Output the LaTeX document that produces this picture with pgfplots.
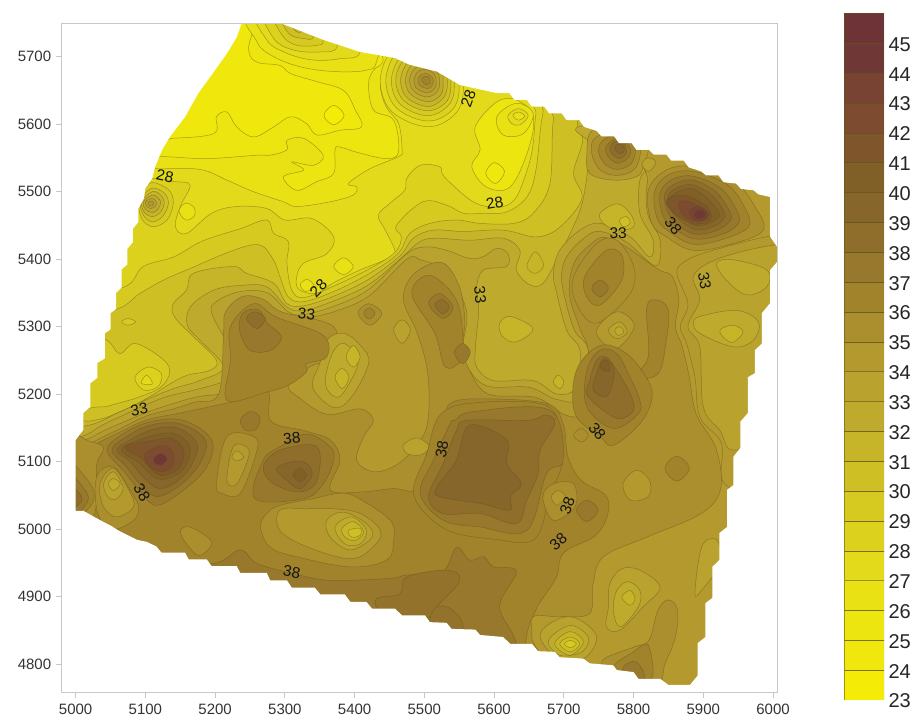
\documentclass[border=0pt]{standalone}
\usepackage{fontspec}
\setmainfont{Liberation Sans}
\usepackage{pgfplots}
\pgfplotsset{compat=1.18}
\definecolor{c23}{HTML}{F4EB06}\definecolor{c24}{HTML}{F0E80C}\definecolor{c25}{HTML}{EDE50F}
\definecolor{c26}{HTML}{E9E113}\definecolor{c27}{HTML}{E2DA1A}\definecolor{c28}{HTML}{DCD21E}
\definecolor{c29}{HTML}{D6CA21}\definecolor{c30}{HTML}{CEBF25}\definecolor{c31}{HTML}{C6B528}
\definecolor{c32}{HTML}{BEAA2C}\definecolor{c33}{HTML}{B9A22E}\definecolor{c34}{HTML}{B3992E}
\definecolor{c35}{HTML}{AB8F2F}\definecolor{c36}{HTML}{A1832C}\definecolor{c37}{HTML}{98782C}
\definecolor{c375}{HTML}{93732B}
\definecolor{c38}{HTML}{8E6E2A}\definecolor{c39}{HTML}{86662A}\definecolor{c40}{HTML}{806026}
\definecolor{c41}{HTML}{7F552C}\definecolor{c42}{HTML}{7C4B30}\definecolor{c43}{HTML}{784333}
\definecolor{c44}{HTML}{6F3836}\definecolor{c45}{HTML}{6E3336}
\definecolor{ln}{HTML}{5E5418}
\newcommand\Z[2]{\addplot[fill=c#1,draw=ln,draw opacity=.5,line width=.5pt,smooth cycle,tension=.6,forget plot] coordinates {#2};}
\newcommand\B[2]{\addplot[fill=c#1,draw=ln,draw opacity=.55,line width=.5pt,forget plot] coordinates {(0,#1)(1,#1)(1,#2)(0,#2)} -- cycle;}
\newcommand\T[4]{\node[text=black!92,rotate=#4,inner sep=0pt,font=\fontsize{15.5}{15.5}\selectfont] at (axis cs:#1,#2) {#3};}
\begin{document}
\begin{tikzpicture}
\path[use as bounding box] (0,0) rectangle (917pt,719pt);
\begin{axis}[at={(61.7pt,27pt)},anchor=south west,scale only axis,width=715.3pt,height=668.7pt,
 xmin=4980,xmax=6005.7,ymin=4758.5,ymax=5749.5,axis on top,
 xtick={5000,5100,5200,5300,5400,5500,5600,5700,5800,5900,6000},
 ytick={4800,4900,5000,5100,5200,5300,5400,5500,5600,5700},
 xtick pos=bottom,ytick pos=left,tick align=outside,major tick length=6pt,
 axis line style={draw=black!22,line width=.8pt},tick style={draw=black!22,line width=.8pt},
 /pgf/number format/1000 sep={},/pgf/number format/assume math mode=true,
 tick label style={text=black!80,font=\fontsize{15}{15}\selectfont},
 xticklabel style={yshift=-2pt},yticklabel style={xshift=-1pt}]
\addplot[fill=c27,draw=none,forget plot] coordinates {(4900,4700)(6100,4700)(6100,5800)(4900,5800)} -- cycle;
% north bright bands
\Z{26}{(5050,5537)(5114,5534)(5178,5533)(5217,5517)(5255,5500)(5298,5485)(5317,5478)(5365,5485)(5398,5495)(5403,5507)(5391,5512)(5422,5534)(5463,5552)(5468,5562)(5463,5601)(5445,5626)(5437,5660)(5450,5690)(5460,5710)(5400,5770)(5050,5770)}
\Z{25}{(5050,5552)(5123,5552)(5188,5549)(5260,5554)(5279,5554)(5303,5562)(5303,5576)(5327,5579)(5355,5554)(5341,5539)(5310,5544)(5327,5532)(5298,5522)(5317,5502)(5346,5515)(5370,5527)(5372,5562)(5379,5566)(5408,5557)(5446,5549)(5463,5559)(5456,5606)(5427,5621)(5420,5660)(5427,5680)(5440,5700)(5400,5770)(5050,5770)}
\Z{24}{(5100,5579)(5138,5579)(5198,5586)(5202,5611)(5217,5618)(5231,5596)(5255,5581)(5284,5596)(5308,5611)(5331,5601)(5346,5584)(5379,5591)(5410,5596)(5401,5621)(5384,5650)(5346,5663)(5308,5675)(5293,5687)(5260,5692)(5248,5710)(5245,5770)(5100,5770)}
\Z{23}{(5356,5613)(5370,5628)(5385,5613)(5370,5599)}
% NW peak
\Z{26}{(5255,5770)(5260,5722)(5284,5700)(5322,5685)(5370,5678)(5417,5680)(5432,5695)(5440,5770)}
\Z{27}{(5265,5770)(5274,5725)(5303,5705)(5341,5695)(5379,5697)(5408,5707)(5400,5770)}
\Z{28}{(5274,5770)(5284,5727)(5312,5710)(5350,5707)(5375,5715)(5370,5770)}
\Z{29}{(5284,5770)(5296,5732)(5317,5717)(5346,5717)(5355,5725)(5345,5770)}
\Z{30}{(5293,5770)(5305,5735)(5327,5727)(5341,5730)(5335,5770)}
\Z{31}{(5303,5770)(5312,5742)(5325,5738)(5330,5770)}
% peak at 5500,5665
\Z{27}{(5437,5670)(5448,5625)(5483,5601)(5518,5598)(5548,5620)(5556,5655)(5548,5695)(5503,5725)(5458,5715)}
\Z{28}{(5445,5669)(5455,5630)(5485,5609)(5516,5606)(5543,5625)(5550,5656)(5543,5691)(5503,5718)(5463,5709)}
\Z{29}{(5453,5669)(5461,5635)(5488,5616)(5514,5614)(5537,5631)(5543,5657)(5537,5688)(5503,5711)(5469,5703)}
\Z{30}{(5459,5668)(5467,5639)(5490,5623)(5513,5621)(5533,5635)(5538,5658)(5533,5685)(5503,5705)(5473,5698)}
\Z{31}{(5466,5668)(5472,5643)(5492,5629)(5511,5627)(5528,5640)(5533,5659)(5528,5682)(5503,5699)(5478,5693)}
\Z{32}{(5473,5667)(5478,5647)(5494,5636)(5510,5634)(5524,5644)(5527,5660)(5524,5679)(5503,5693)(5482,5688)}
\Z{33}{(5479,5667)(5483,5651)(5496,5642)(5508,5641)(5519,5649)(5522,5661)(5519,5676)(5503,5687)(5487,5683)}
\Z{34}{(5485,5666)(5488,5654)(5498,5648)(5507,5647)(5515,5653)(5517,5662)(5515,5673)(5503,5681)(5491,5678)}
\Z{35}{(5491,5666)(5493,5658)(5500,5654)(5506,5653)(5511,5657)(5513,5663)(5511,5670)(5503,5675)(5495,5673)}
\Z{36}{(5496,5665)(5501,5659)(5505,5658)(5508,5661)(5508,5668)(5503,5671)(5498,5670)}
% bright patch north of the 28 label
\Z{25}{(5573,5596)(5580,5562)(5568,5537)(5589,5507)(5623,5507)(5649,5562)(5656,5611)(5632,5636)(5604,5633)}
\Z{24}{(5588,5527)(5600,5543)(5615,5530)(5602,5512)}
\Z{26}{(5604,5611)(5632,5631)(5656,5616)(5642,5586)(5613,5584)}
\Z{27}{(5620,5613)(5635,5623)(5649,5613)(5637,5599)(5625,5601)}
\Z{26}{(5627,5613)(5635,5618)(5644,5612)(5635,5606)}
\Z{26}{(5148,5472)(5158,5483)(5170,5476)(5170,5464)(5158,5458)}
% rising bands
\Z{28}{(4950,5520)(5104,5520)(5140,5515)(5164,5510)(5150,5478)(5143,5448)(5159,5438)(5195,5468)(5231,5478)(5274,5475)(5300,5458)(5339,5460)(5370,5433)(5360,5408)(5327,5394)(5317,5374)(5320,5355)(5345,5349)(5370,5365)(5408,5384)(5446,5400)(5458,5411)(5444,5443)(5434,5465)(5451,5483)(5472,5502)(5475,5520)(5494,5539)(5522,5537)(5527,5524)(5551,5500)(5570,5485)(5589,5478)(5613,5478)(5632,5492)(5649,5537)(5656,5571)(5660,5616)(5670,5680)(6100,5700)(6100,4700)(4900,4700)(4900,5520)}
\Z{26}{(5370,5389)(5384,5402)(5398,5389)(5384,5377)}
\Z{26}{(5322,5362)(5332,5370)(5342,5360)(5330,5352)}
\Z{29}{(5090,5490)(5107,5513)(5133,5503)(5140,5483)(5131,5458)(5111,5448)(5095,5460)}
\Z{30}{(5093,5487)(5109,5505)(5127,5498)(5133,5483)(5126,5465)(5111,5455)(5097,5465)}
\Z{31}{(5095,5486)(5110,5500)(5122,5495)(5127,5484)(5122,5470)(5110,5463)(5098,5470)}
\Z{32}{(5097,5485)(5110,5495)(5118,5491)(5122,5484)(5118,5474)(5110,5469)(5100,5474)}
\Z{33}{(5100,5485)(5110,5490)(5115,5486)(5116,5482)(5113,5477)(5108,5475)(5102,5478)}
\Z{34}{(5104,5484)(5110,5486)(5112,5483)(5110,5479)(5106,5479)}
\Z{29}{(4950,5355)(5064,5357)(5097,5389)(5140,5403)(5174,5423)(5198,5433)(5236,5445)(5274,5458)(5284,5438)(5305,5426)(5303,5394)(5310,5354)(5327,5343)(5370,5360)(5420,5385)(5458,5410)(5467,5433)(5460,5450)(5498,5485)(5532,5480)(5556,5468)(5585,5468)(5618,5470)(5647,5492)(5660,5532)(5670,5616)(5690,5680)(6100,5700)(6100,4700)(4900,4700)(4900,5355)}
\Z{30}{(4950,5320)(5052,5324)(5092,5349)(5126,5369)(5164,5386)(5226,5413)(5264,5421)(5284,5398)(5293,5374)(5305,5344)(5327,5337)(5370,5352)(5420,5378)(5462,5408)(5479,5438)(5508,5453)(5546,5458)(5580,5453)(5628,5453)(5656,5468)(5680,5512)(5685,5606)(5700,5660)(6100,5700)(6100,4700)(4900,4700)(4900,5320)}
% west lobe
\Z{29}{(5000,5290)(5044,5280)(5063,5260)(5085,5275)(5121,5255)(5135,5235)(5123,5211)(5092,5196)(5059,5186)(5035,5181)(5000,5190)}
\Z{28}{(5085,5225)(5104,5240)(5123,5230)(5118,5211)(5097,5206)}
\Z{27}{(5094,5216)(5102,5228)(5110,5215)}
\Z{29}{(5066,5307)(5075,5312)(5086,5307)(5075,5302)}
\Z{31}{(4900,5150)(5020,5160)(5068,5176)(5106,5196)(5135,5215)(5160,5228)(5192,5235)(5202,5250)(5169,5285)(5142,5314)(5140,5334)(5159,5354)(5169,5379)(5226,5389)(5245,5379)(5284,5364)(5303,5334)(5327,5331)(5370,5345)(5420,5370)(5465,5405)(5484,5431)(5513,5443)(5556,5441)(5613,5443)(5661,5433)(5695,5448)(5726,5490)(5714,5527)(5727,5575)(5722,5610)(5780,5700)(6100,5700)(6100,4700)(4900,4700)}
\Z{32}{(4900,5145)(5010,5152)(5060,5172)(5102,5192)(5140,5208)(5178,5220)(5212,5240)(5178,5280)(5160,5302)(5165,5330)(5198,5354)(5236,5361)(5274,5359)(5303,5329)(5327,5324)(5370,5338)(5420,5362)(5465,5400)(5494,5426)(5518,5431)(5565,5428)(5613,5431)(5637,5413)(5632,5384)(5651,5362)(5670,5364)(5690,5399)(5710,5440)(5725,5478)(5733,5522)(5737,5570)(5745,5600)(6100,5600)(6100,4700)(4900,4700)}
\Z{31}{(5647,5389)(5659,5411)(5671,5391)(5659,5379)}
\Z{33}{(4900,5125)(5000,5135)(5040,5155)(5092,5180)(5130,5196)(5170,5206)(5215,5220)(5230,5240)(5220,5270)(5195,5320)(5203,5338)(5236,5352)(5275,5350)(5305,5322)(5327,5318)(5370,5330)(5420,5355)(5475,5408)(5503,5418)(5532,5413)(5565,5401)(5585,5404)(5604,5416)(5620,5408)(5618,5389)(5585,5384)(5575,5359)(5578,5325)(5575,5290)(5573,5265)(5575,5240)(5599,5220)(5656,5220)(5690,5200)(5718,5210)(5723,5265)(5704,5295)(5690,5349)(5685,5379)(5694,5413)(5723,5443)(5752,5453)(5795,5433)(5823,5403)(5828,5428)(5809,5468)(5809,5517)(5821,5537)(5830,5575)(6100,5575)(6100,4700)(4900,4700)}
\Z{31}{(5608,5305)(5623,5315)(5654,5300)(5649,5287)(5628,5277)(5611,5287)}
\Z{31}{(5752,5468)(5776,5482)(5795,5468)(5800,5448)(5776,5443)(5757,5453)}
\Z{30}{(5780,5458)(5790,5463)(5795,5453)(5785,5448)}
\Z{34}{(4900,5115)(5000,5128)(5045,5148)(5100,5172)(5140,5186)(5175,5196)(5222,5205)(5236,5240)(5228,5290)(5240,5320)(5262,5330)(5290,5320)(5312,5305)(5330,5312)(5370,5322)(5420,5345)(5475,5400)(5494,5399)(5518,5389)(5546,5359)(5560,5325)(5560,5300)(5555,5270)(5562,5240)(5590,5212)(5650,5210)(5690,5192)(5725,5195)(5735,5265)(5715,5295)(5700,5349)(5697,5379)(5705,5405)(5730,5432)(5752,5441)(5790,5425)(5832,5390)(5838,5428)(5820,5468)(5820,5515)(5835,5570)(6100,5570)(6100,4700)(4900,4700)}
\Z{31}{(5685,5218)(5692,5228)(5700,5218)(5694,5208)}
% NE peaks
\Z{34}{(5733,5557)(5737,5527)(5771,5517)(5804,5522)(5814,5537)(5819,5570)(5780,5600)(5740,5590)}
\Z{33}{(5812,5540)(5820,5550)(5832,5544)(5822,5530)}
\Z{35}{(5740,5557)(5752,5532)(5776,5524)(5800,5532)(5809,5552)(5807,5572)(5780,5590)(5745,5580)}
\Z{36}{(5750,5558)(5760,5540)(5777,5533)(5795,5540)(5802,5555)(5800,5572)(5778,5585)(5755,5575)}
\Z{37}{(5760,5560)(5767,5548)(5778,5542)(5790,5548)(5796,5558)(5792,5570)(5778,5580)(5763,5570)}
\Z{38}{(5766,5562)(5772,5553)(5780,5549)(5788,5554)(5790,5562)(5786,5572)(5772,5574)}
\Z{39}{(5773,5564)(5777,5558)(5783,5557)(5787,5562)(5784,5570)(5776,5570)}
\Z{35}{(5821,5502)(5847,5532)(5886,5537)(5943,5517)(5974,5478)(5986,5443)(5943,5423)(5886,5413)(5847,5433)(5826,5453)}
\Z{36}{(5830,5500)(5850,5525)(5886,5530)(5935,5510)(5960,5475)(5965,5448)(5930,5430)(5886,5422)(5852,5440)(5834,5460)}
\Z{37}{(5838,5498)(5855,5518)(5885,5523)(5925,5505)(5948,5472)(5950,5452)(5925,5436)(5888,5430)(5858,5446)(5842,5465)}
\Z{38}{(5845,5497)(5860,5512)(5885,5517)(5918,5500)(5938,5470)(5938,5456)(5918,5442)(5888,5437)(5862,5452)(5848,5472)}
\Z{39}{(5850,5495)(5865,5507)(5885,5510)(5912,5495)(5930,5470)(5928,5458)(5912,5447)(5888,5444)(5866,5458)(5852,5476)}
\Z{40}{(5853,5492)(5868,5502)(5885,5504)(5906,5490)(5922,5470)(5920,5460)(5905,5452)(5888,5450)(5870,5463)(5856,5478)}
\Z{41}{(5847,5487)(5871,5495)(5905,5478)(5910,5458)(5886,5452)(5858,5468)}
\Z{42}{(5865,5484)(5880,5485)(5903,5472)(5905,5460)(5888,5456)(5870,5466)}
\Z{43}{(5880,5472)(5895,5478)(5908,5466)(5898,5457)(5885,5460)}
\Z{44}{(5887,5468)(5895,5473)(5903,5466)(5896,5460)(5889,5462)}
% band 35
\Z{35}{(4900,5118)(5000,5122)(5050,5142)(5100,5167)(5140,5178)(5170,5188)(5205,5200)(5212,5290)(5215,5322)(5240,5345)(5270,5340)(5295,5322)(5370,5300)(5365,5255)(5335,5240)(5305,5213)(5320,5195)(5360,5170)(5408,5178)(5427,5161)(5413,5137)(5403,5102)(5427,5085)(5460,5095)(5490,5125)(5505,5160)(5505,5230)(5490,5290)(5470,5340)(5485,5378)(5525,5395)(5550,5360)(5558,5310)(5555,5270)(5565,5235)(5592,5200)(5660,5195)(5700,5170)(5725,5170)(5735,5210)(5735,5265)(5722,5300)(5708,5349)(5715,5395)(5742,5425)(5760,5432)(5790,5418)(5835,5385)(5855,5375)(5865,5340)(5860,5300)(5870,5270)(5880,5225)(5890,5170)(5918,5120)(5925,5060)(5897,5023)(5819,4988)(5757,4959)(5742,4919)(5737,4875)(5694,4870)(5656,4870)(5654,4840)(5651,4700)(4900,4700)}
% central-north islands
\Z{33}{(5340,5210)(5370,5180)(5395,5195)(5420,5245)(5410,5270)(5385,5290)(5360,5280)(5350,5245)}
\Z{32}{(5358,5215)(5375,5195)(5392,5215)(5405,5250)(5385,5275)(5368,5260)}
\Z{31}{(5372,5225)(5382,5238)(5392,5225)(5382,5208)}
\Z{31}{(5388,5255)(5398,5272)(5408,5255)(5398,5240)}
\Z{33}{(5456,5295)(5468,5310)(5480,5295)(5468,5275)}
\Z{33}{(5470,5125)(5490,5135)(5507,5122)(5495,5110)(5475,5112)}
\Z{35}{(5405,5320)(5420,5334)(5439,5320)(5422,5302)}
\Z{36}{(5413,5320)(5421,5328)(5429,5320)(5421,5311)}
% band 36 (bulk of the south)
\Z{36}{(4900,5112)(5000,5116)(5050,5137)(5100,5161)(5150,5172)(5230,5190)(5275,5205)(5280,5160)(5327,5146)(5365,5132)(5379,5102)(5365,5058)(5410,5055)(5455,5060)(5490,5060)(5505,5117)(5527,5156)(5537,5186)(5580,5193)(5675,5186)(5699,5156)(5706,5107)(5725,5072)(5760,5050)(5763,5022)(5745,4990)(5700,4965)(5690,4930)(5675,4905)(5660,4880)(5645,4830)(5640,4700)(4900,4700)}
\Z{36}{(5217,5191)(5222,5250)(5222,5300)(5255,5334)(5288,5314)(5355,5287)(5360,5255)(5331,5245)(5331,5233)(5305,5213)(5274,5203)}
\Z{37}{(5235,5295)(5240,5320)(5262,5325)(5275,5305)(5295,5285)(5280,5265)(5250,5265)}
\Z{38}{(5245,5312)(5257,5322)(5272,5312)(5260,5297)}
\Z{37}{(5236,5161)(5250,5174)(5264,5166)(5260,5149)(5245,5146)}
\Z{36}{(5482,5349)(5508,5376)(5546,5339)(5556,5275)(5553,5250)(5530,5240)(5515,5290)}
\Z{37}{(5506,5334)(5522,5349)(5541,5329)(5527,5312)}
\Z{38}{(5515,5332)(5525,5340)(5536,5329)(5526,5319)}
\Z{37}{(5543,5262)(5555,5275)(5566,5262)(5555,5245)}
\Z{36}{(5819,5329)(5835,5339)(5850,5324)(5847,5280)(5835,5230)(5800,5225)(5821,5255)}
% central-east islands on the ridge
\Z{35}{(5714,5374)(5747,5423)(5776,5428)(5800,5389)(5795,5349)(5747,5305)(5718,5334)}
\Z{36}{(5730,5374)(5761,5413)(5783,5406)(5783,5369)(5752,5332)(5733,5344)}
\Z{37}{(5740,5357)(5752,5369)(5764,5357)(5752,5344)}
\Z{34}{(5747,5295)(5776,5322)(5801,5302)(5780,5270)(5761,5272)}
\Z{33}{(5764,5295)(5780,5307)(5791,5292)(5776,5282)}
\Z{32}{(5773,5295)(5780,5300)(5786,5292)(5778,5287)}
% N-S peak
\Z{36}{(5716,5171)(5752,5137)(5771,5124)(5809,5156)(5826,5191)(5821,5220)(5790,5260)(5752,5272)(5718,5235)}
\Z{37}{(5733,5181)(5771,5149)(5807,5171)(5809,5191)(5795,5225)(5776,5260)(5752,5265)(5733,5235)}
\Z{38}{(5735,5196)(5776,5164)(5800,5176)(5795,5201)(5776,5235)(5761,5255)(5747,5250)(5737,5220)}
\Z{39}{(5747,5230)(5742,5206)(5761,5196)(5771,5220)(5771,5240)(5757,5253)}
\Z{40}{(5752,5240)(5764,5233)(5766,5243)(5759,5250)}
% east lighter zone
\Z{34}{(5996,5434)(5914,5413)(5876,5398)(5862,5379)(5878,5334)(5867,5300)(5876,5275)(5888,5225)(5895,5166)(5926,5127)(5931,5067)(6000,5060)(6050,5300)(6050,5434)}
\Z{33}{(5996,5420)(5920,5400)(5886,5375)(5895,5340)(5878,5300)(5895,5270)(5900,5181)(5924,5146)(5943,5117)(6000,5150)(6050,5300)(6050,5420)}
\Z{32}{(5919,5394)(5943,5399)(5991,5384)(5991,5359)(5962,5347)(5933,5369)}
\Z{32}{(5886,5305)(5895,5315)(5948,5324)(5979,5307)(5972,5280)(5943,5270)(5895,5290)}
\Z{31}{(5924,5295)(5943,5302)(5957,5292)(5943,5277)(5931,5282)}
% plateau
\Z{36}{(5485,5050)(5503,5110)(5525,5172)(5585,5188)(5675,5183)(5695,5140)(5697,5095)(5680,5050)(5658,4985)(5600,4985)(5530,5000)}
% south dark
\Z{37}{(5198,4949)(5236,4969)(5260,4949)(5312,4934)(5365,4924)(5451,4927)(5475,4932)(5525,4935)(5546,4973)(5565,4954)(5585,4959)(5599,4944)(5632,4937)(5608,4885)(5632,4830)(5635,4750)(5100,4750)(5100,4945)}
\Z{375}{(5465,4904)(5475,4929)(5532,4939)(5551,4924)(5518,4885)(5508,4870)(5450,4860)(5430,4895)}
\Z{375}{(5513,4880)(5532,4885)(5553,4865)(5551,4845)(5510,4850)}
\Z{37}{(5544,5161)(5570,5174)(5680,5176)(5699,5102)(5675,5082)(5647,4998)(5580,5003)(5527,5013)(5494,5053)(5513,5102)(5537,5156)}
\Z{38}{(5561,5161)(5647,5161)(5675,5169)(5687,5156)(5666,5117)(5663,5082)(5647,5043)(5632,5008)(5580,5023)(5527,5023)(5506,5048)(5527,5097)(5546,5146)}
\Z{39}{(5565,5154)(5618,5132)(5618,5097)(5639,5067)(5623,5048)(5623,5028)(5580,5038)(5522,5048)(5518,5062)(5546,5102)}
% islands east of plateau
\Z{35}{(5670,5048)(5685,5067)(5714,5067)(5716,5033)(5685,5013)}
\Z{34}{(5682,5048)(5692,5057)(5702,5048)(5690,5035)}
\Z{37}{(5718,5028)(5733,5043)(5749,5028)(5733,5011)}
\Z{35}{(5714,5139)(5725,5149)(5735,5139)(5725,5129)}
\Z{34}{(5785,5067)(5804,5087)(5823,5072)(5821,5048)(5795,5043)}
\Z{36}{(5845,5090)(5862,5108)(5880,5090)(5862,5071)}
% south-east lobes
\Z{33}{(5898,4974)(5919,4984)(5925,4950)(5898,4910)(5888,4905)}
\Z{33}{(5766,4919)(5783,4941)(5809,4939)(5838,4914)(5814,4885)(5780,4850)(5761,4855)(5764,4885)}
\Z{32}{(5771,4880)(5776,4909)(5792,4922)(5809,4909)(5807,4885)(5781,4855)}
\Z{31}{(5783,4899)(5795,4909)(5802,4897)(5795,4887)}
\Z{33}{(5666,4840)(5680,4860)(5709,4870)(5737,4855)(5747,4835)(5728,4808)(5690,4810)}
\Z{32}{(5678,4835)(5709,4857)(5735,4840)(5726,4818)(5694,4813)}
\Z{31}{(5687,4830)(5709,4848)(5728,4833)(5709,4813)}
\Z{30}{(5694,4830)(5709,4840)(5723,4830)(5709,4818)}
\Z{29}{(5701,4830)(5709,4835)(5718,4830)(5709,4824)}
\Z{35}{(5835,4880)(5850,4895)(5863,4880)(5860,4840)(5845,4800)(5833,4770)(5770,4780)(5755,4805)(5800,4825)(5822,4835)}
\Z{36}{(5771,4795)(5800,4818)(5821,4828)(5826,4778)(5790,4770)}
\Z{37}{(5785,4795)(5804,4803)(5816,4778)(5790,4770)}
% south-central lobe
\Z{35}{(5265,5003)(5274,5023)(5293,5035)(5341,5045)(5379,5053)(5403,5047)(5451,5013)(5456,4983)(5446,4954)(5394,4944)(5317,4959)(5279,4973)}
\Z{34}{(5293,5028)(5293,4998)(5331,4974)(5394,4956)(5427,4974)(5437,4998)(5408,5023)(5370,5030)(5331,5030)}
\Z{33}{(5360,5013)(5384,5025)(5417,5008)(5425,4988)(5394,4969)(5365,4988)}
\Z{32}{(5372,5003)(5396,5018)(5417,4998)(5408,4978)(5386,4978)}
\Z{31}{(5382,5001)(5398,5011)(5413,4996)(5401,4983)(5386,4988)}
\Z{30}{(5391,4998)(5408,5001)(5408,4991)(5396,4988)}
\Z{35}{(5150,4996)(5164,5003)(5195,4981)(5178,4961)(5162,4974)}
\Z{35}{(5202,5067)(5217,5137)(5255,5137)(5260,5117)(5236,5053)(5210,5053)}
\Z{34}{(5217,5072)(5226,5122)(5245,5122)(5248,5107)(5231,5067)}
\Z{33}{(5224,5107)(5231,5116)(5241,5107)(5231,5101)}
% south-west peak at 5320,5080
\Z{37}{(5257,5045)(5269,5102)(5293,5122)(5331,5141)(5365,5122)(5370,5102)(5355,5067)(5327,5045)}
\Z{38}{(5269,5092)(5293,5117)(5346,5122)(5346,5072)(5322,5055)(5284,5067)}
\Z{39}{(5288,5090)(5312,5100)(5331,5097)(5339,5080)(5322,5060)(5303,5072)}
\Z{40}{(5312,5080)(5322,5090)(5331,5080)(5322,5070)}
% far-west zone
\Z{35}{(4990,5132)(5020,5130)(5040,5120)(5030,5095)(5030,5040)(5020,5010)(4990,5010)}
\Z{35}{(5032,5022)(5030,5077)(5054,5092)(5078,5058)(5090,5033)(5083,5013)(5054,5000)}
\Z{34}{(5035,5067)(5054,5090)(5076,5058)(5083,5033)(5059,5018)(5040,5033)}
\Z{33}{(5040,5067)(5054,5085)(5068,5062)(5059,5045)(5047,5047)}
\Z{32}{(5047,5067)(5054,5075)(5064,5067)(5054,5057)}
\Z{36}{(4990,5095)(5021,5067)(5026,5043)(5011,5023)(4990,5010)}
\Z{37}{(4990,5080)(5012,5060)(5018,5043)(5005,5025)(4990,5020)}
\Z{38}{(4990,5065)(5006,5052)(5008,5040)(4990,5030)}
% main south-west peak
\Z{37}{(5045,5117)(5068,5141)(5107,5159)(5155,5161)(5195,5132)(5188,5092)(5155,5058)(5116,5035)(5092,5057)(5068,5087)}
\Z{38}{(5052,5117)(5073,5137)(5107,5154)(5150,5156)(5186,5132)(5178,5097)(5150,5065)(5116,5048)(5092,5067)(5073,5092)}
\Z{39}{(5059,5117)(5078,5132)(5109,5147)(5145,5150)(5174,5127)(5166,5095)(5145,5070)(5119,5060)(5097,5077)(5078,5100)}
\Z{40}{(5066,5119)(5112,5139)(5143,5141)(5164,5122)(5157,5092)(5138,5077)(5116,5075)(5092,5097)}
\Z{41}{(5071,5122)(5114,5132)(5138,5134)(5155,5117)(5150,5092)(5133,5081)(5116,5082)(5095,5104)}
\Z{42}{(5100,5112)(5126,5124)(5140,5112)(5138,5092)(5121,5085)(5104,5095)}
\Z{44}{(5112,5104)(5122,5112)(5131,5104)(5123,5095)(5114,5097)}
% everything outside the surveyed area stays white
\addplot[fill=white,draw=none,even odd rule,forget plot] coordinates {(4960,4740)(6030,4740)(6030,5770)(4960,5770)(4960,4740)
(5000,5027)(5000,5132)(5011,5147)(5011,5172)(5021,5181)(5021,5216)(5031,5224)(5031,5246)(5042,5253)(5042,5290)(5050,5296)(5050,5320)(5058,5326)(5058,5350)(5066,5358)(5066,5385)(5074,5392)(5074,5415)(5082,5425)(5082,5445)(5090,5455)(5090,5475)(5098,5490)(5100,5505)(5110,5520)(5114,5537)(5124,5562)(5135,5581)(5157,5611)(5176,5646)(5197,5676)(5217,5705)(5231,5729)(5245,5770)(5293,5770)(5293,5750)(5355,5725)(5408,5707)(5458,5698)(5479,5688)(5518,5678)(5551,5658)(5604,5646)(5622,5646)(5629,5636)(5647,5636)(5654,5626)(5672,5626)(5679,5616)(5697,5616)(5704,5606)(5722,5606)(5729,5596)(5747,5590)(5754,5582)(5772,5582)(5779,5572)(5797,5572)(5804,5562)(5822,5562)(5829,5555)(5847,5555)(5854,5546)(5872,5546)(5879,5536)(5897,5530)(5904,5524)(5922,5524)(5929,5514)(5947,5512)(5954,5504)(5972,5502)(5979,5496)(5996,5492)(5996,5433)(6006,5418)(6006,5396)(5996,5384)(5996,5335)(5984,5320)(5984,5275)(5974,5265)(5974,5231)(5964,5225)(5964,5172)(5953,5159)(5953,5120)(5943,5107)(5943,5065)(5934,5058)(5934,5003)(5923,4994)(5923,4954)(5913,4944)(5913,4898)(5903,4890)(5903,4840)(5892,4831)(5892,4783)(5881,4769)(5850,4769)(5838,4778)(5807,4778)(5800,4788)(5776,4791)(5771,4798)(5737,4801)(5728,4808)(5694,4810)(5687,4818)(5663,4819)(5654,4830)(5623,4830)(5613,4840)(5580,4843)(5573,4851)(5539,4852)(5532,4861)(5508,4862)(5501,4872)(5468,4872)(5458,4882)(5425,4882)(5417,4892)(5394,4892)(5386,4903)(5351,4903)(5343,4913)(5310,4913)(5303,4924)(5279,4924)(5274,4935)(5236,4935)(5231,4945)(5195,4945)(5188,4955)(5162,4955)(5157,4965)(5123,4965)(5116,4974)(5102,4981)(5088,4984)(5061,4998)(5052,5004)(5030,5016)(5011,5027)(5000,5027)(4960,4740)};
\T{5128}{5523}{28}{-12}\T{5563}{5638}{28}{70}\T{5601}{5483}{28}{10}\T{5348}{5357}{28}{45}
\T{5331}{5319}{33}{-5}\T{5778}{5439}{33}{0}\T{5580}{5347}{33}{-85}\T{5902}{5368}{33}{-80}\T{5091}{5177}{33}{10}
\T{5857}{5449}{38}{-50}\T{5095}{5054}{38}{-60}\T{5310}{5134}{38}{5}\T{5310}{4936}{38}{-10}\T{5525}{5118}{38}{80}\T{5748}{5145}{38}{-50}\T{5705}{5035}{38}{70}\T{5692}{4981}{38}{40}
\end{axis}
\begin{axis}[at={(844pt,19pt)},anchor=south west,scale only axis,width=40pt,height=686.5pt,
 xmin=0,xmax=1,ymin=23,ymax=46,axis line style={draw=none},xtick=\empty,
 ytick={23,24,25,26,27,28,29,30,31,32,33,34,35,36,37,38,39,40,41,42,43,44,45},
 yticklabel pos=right,tick style={draw=none},
 /pgf/number format/assume math mode=true,
 yticklabel style={text=black!85,font=\fontsize{20}{20}\selectfont,yshift=-1pt,xshift=1pt}]
\B{23}{24}\B{24}{25}\B{25}{26}\B{26}{27}\B{27}{28}\B{28}{29}\B{29}{30}\B{30}{31}\B{31}{32}\B{32}{33}\B{33}{34}\B{34}{35}
\B{35}{36}\B{36}{37}\B{37}{38}\B{38}{39}\B{39}{40}\B{40}{41}\B{41}{42}\B{42}{43}\B{43}{44}\B{44}{45}\B{45}{46}
\end{axis}
\end{tikzpicture}
\end{document}
